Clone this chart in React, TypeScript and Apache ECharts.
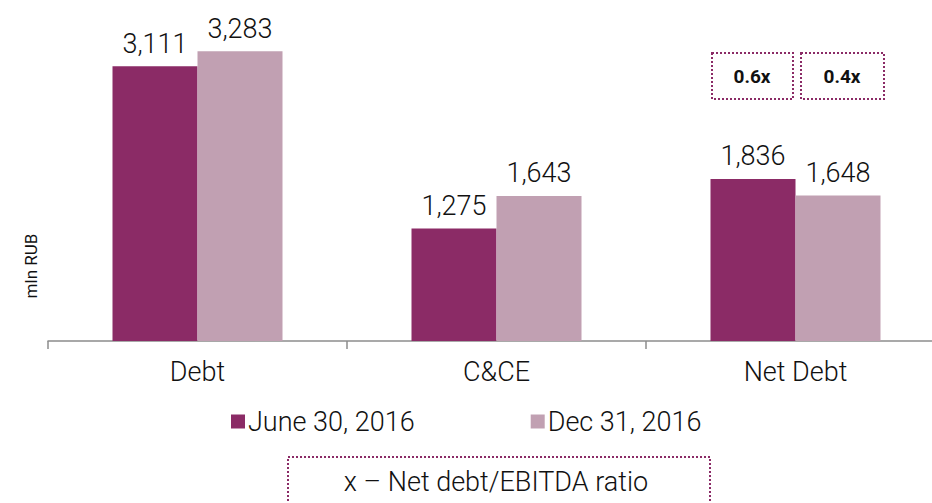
import React, { useEffect, useRef } from "react";
import * as echarts from "echarts";

const categories = ["Debt", "C&CE", "Net Debt"];
const seriesNames = ["June 30, 2016", "Dec 31, 2016"];
const june2016 = [3111, 1275, 1836];
const dec2016 = [3283, 1643, 1648];
const ratioLabels = ["0.6x", "0.4x"];
const noteText = "x – Net debt/EBITDA ratio";
const yAxisName = "mln RUB";

const DARK = "#8B2B66";
const LIGHT = "#C1A0B2";
const FONT = "Roboto";
const W = 300;
const FS = 27;

export default function App() {
  const ref = useRef<HTMLDivElement>(null);
  useEffect(() => {
    if (!ref.current) return;
    const chart = echarts.init(ref.current, null, { renderer: "svg" });
    const fmt = (p: any) => Number(p.value).toLocaleString("en-US");
    const box = (x: number, y: number, w: number, h: number) => ({
      type: "rect",
      shape: { x, y, width: w, height: h },
      style: { fill: "none", stroke: DARK, lineWidth: 2, lineDash: [2, 2] },
    });
    const lbl = {
      show: true,
      position: "top",
      distance: 9,
      fontSize: FS,
      fontWeight: W,
      color: "#111",
      formatter: fmt,
      fontFamily: FONT,
    };
    chart.setOption({
      animation: false,
      textStyle: { fontFamily: FONT },
      grid: { left: 48, top: 32, width: 897, height: 309, containLabel: false, outerBoundsMode: "none" },
      xAxis: {
        type: "category",
        data: categories,
        axisLine: { show: true, lineStyle: { color: "#8c8c8c", width: 1.5 } },
        axisTick: { show: true, length: 8, lineStyle: { color: "#8c8c8c", width: 1.5 } },
        axisLabel: { color: "#111", fontSize: FS, fontWeight: W, margin: 17, fontFamily: FONT },
      },
      yAxis: {
        type: "value",
        min: 0,
        max: 3500,
        show: false,
        splitLine: { show: false },
      },
      legend: {
        left: 226,
        top: 403,
        itemWidth: 14,
        itemHeight: 14,
        itemGap: 116,
        icon: "rect",
        textStyle: { fontSize: FS, fontWeight: W, color: "#111", fontFamily: FONT, padding: [0, 0, 0, -2] },
        data: seriesNames,
      },
      series: [
        {
          name: seriesNames[0],
          type: "bar",
          data: june2016,
          barWidth: 85,
          barGap: "0%",
          itemStyle: { color: DARK },
          label: lbl,
        },
        {
          name: seriesNames[1],
          type: "bar",
          data: dec2016,
          barWidth: 85,
          barGap: "0%",
          itemStyle: { color: LIGHT },
          label: lbl,
        },
      ],
      graphic: [
        {
          type: "text",
          x: 31,
          y: 266,
          rotation: Math.PI / 2,
          style: { text: yAxisName, fontSize: 17, fill: "#111", fontFamily: FONT, align: "center", verticalAlign: "middle" },
        },
        box(712, 53, 81, 46),
        box(801, 53, 83, 46),
        {
          type: "text",
          x: 752,
          y: 76,
          style: { text: ratioLabels[0], fontSize: 19, fontWeight: "bold", fill: "#111", fontFamily: FONT, align: "center", verticalAlign: "middle" },
        },
        {
          type: "text",
          x: 842,
          y: 76,
          style: { text: ratioLabels[1], fontSize: 19, fontWeight: "bold", fill: "#111", fontFamily: FONT, align: "center", verticalAlign: "middle" },
        },
        box(288, 457, 422, 60),
        {
          type: "text",
          x: 496,
          y: 482,
          style: { text: noteText, fontSize: FS, fontWeight: W, fill: "#111", fontFamily: FONT, align: "center", verticalAlign: "middle" },
        },
      ],
    });
    return () => chart.dispose();
  }, []);
  return <div ref={ref} style={{ width: 932, height: 503, position: "absolute", left: 0, top: 0 }} />;
}
